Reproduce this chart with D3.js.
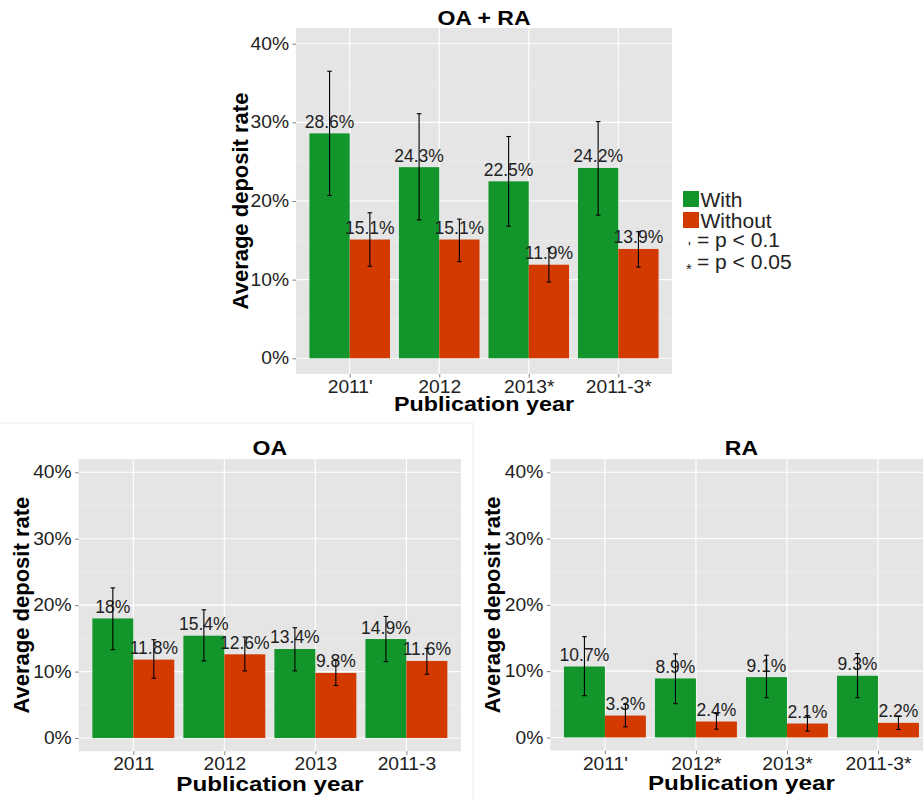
<!DOCTYPE html>
<html>
<head>
<meta charset="utf-8">
<script src="https://cdn.jsdelivr.net/npm/d3@7"></script>
<style>
  html, body { margin: 0; padding: 0; background: #fff; }
  svg { display: block; font-family: "Liberation Sans", Arial, sans-serif; }
</style>
</head>
<body>
<svg id="chart" width="923" height="799"></svg>
<script>
// Average deposit rate, with vs. without, per publication year (values in %)
const yTicks = [0, 10, 20, 30, 40];
const yMinor = [5, 15, 25, 35];

// OA + RA
const catsAll = ["2011'", "2012", "2013*", "2011-3*"];
const withAll = [28.6, 24.3, 22.5, 24.2];
const withAllLo = [20.7, 17.6, 16.8, 18.2];
const withAllHi = [36.5, 31.1, 28.2, 30.1];
const withoutAll = [15.1, 15.1, 11.9, 13.9];
const withoutAllLo = [11.7, 12.3, 9.7, 11.6];
const withoutAllHi = [18.5, 17.7, 14.0, 16.1];

// OA
const catsOA = ["2011", "2012", "2013", "2011-3"];
const withOA = [18, 15.4, 13.4, 14.9];
const withOALo = [13.3, 11.6, 10.1, 11.5];
const withOAHi = [22.6, 19.3, 16.6, 18.3];
const withoutOA = [11.8, 12.6, 9.8, 11.6];
const withoutOALo = [9.0, 10.1, 7.9, 9.6];
const withoutOAHi = [14.8, 15.2, 11.7, 13.5];

// RA
const catsRA = ["2011'", "2012*", "2013*", "2011-3*"];
const withRA = [10.7, 8.9, 9.1, 9.3];
const withRALo = [6.3, 5.1, 6.0, 6.0];
const withRAHi = [15.2, 12.6, 12.4, 12.65];
const withoutRA = [3.3, 2.4, 2.1, 2.2];
const withoutRALo = [1.6, 1.25, 0.95, 1.2];
const withoutRAHi = [5.0, 3.6, 3.3, 3.2];

const legendLabels = ["With", "Without"];
const COLORS = { With: "#12952a", Without: "#d23a00" };
const BG = "#e5e5e5";
const TXT = "#222";

const svg = d3.select("#chart");

// widen glyphs horizontally by a factor, keeping the font height
function widen(sel, factor) {
  sel.each(function () {
    const len = this.getComputedTextLength();
    d3.select(this).attr("textLength", len * factor).attr("lengthAdjust", "spacingAndGlyphs");
  });
  return sel;
}

// faint frame around the lower-left figure
svg.append("line").attr("x1", 0).attr("x2", 473).attr("y1", 423).attr("y2", 423)
  .attr("stroke", "#ececec").attr("stroke-width", 1);
svg.append("line").attr("x1", 473).attr("x2", 473).attr("y1", 423).attr("y2", 799)
  .attr("stroke", "#ececec").attr("stroke-width", 1);

function drawPanel(p) {
  const g = svg.append("g");
  const x = d3.scalePoint().domain(p.cats).range([p.left, p.right]).padding(0.6);
  const y = d3.scaleLinear().domain([-2, 42]).range([p.bottom, p.top]);
  const step = x.step();
  const bw = 0.45 * step;

  g.append("rect").attr("x", p.left).attr("y", p.top)
    .attr("width", p.right - p.left).attr("height", p.bottom - p.top).attr("fill", BG);

  // minor / major grid
  g.selectAll(".minor").data(yMinor).join("line")
    .attr("x1", p.left).attr("x2", p.right)
    .attr("y1", d => y(d)).attr("y2", d => y(d))
    .attr("stroke", "#f0f0f0").attr("stroke-width", 0.6);
  g.selectAll(".major").data(yTicks).join("line")
    .attr("x1", p.left).attr("x2", p.right)
    .attr("y1", d => y(d)).attr("y2", d => y(d))
    .attr("stroke", "#fff").attr("stroke-width", 1.1);
  g.selectAll(".vgrid").data(p.cats).join("line")
    .attr("x1", d => x(d)).attr("x2", d => x(d))
    .attr("y1", p.top).attr("y2", p.bottom)
    .attr("stroke", "#fff").attr("stroke-width", 1.1);

  const rows = p.cats.map((c, i) => [
    { c, key: "With", v: p.w[i], lo: p.wLo[i], hi: p.wHi[i], off: -bw / 2 },
    { c, key: "Without", v: p.wo[i], lo: p.woLo[i], hi: p.woHi[i], off: bw / 2 }
  ]).flat();

  g.selectAll(".bar").data(rows).join("rect")
    .attr("x", d => x(d.c) + d.off - bw / 2)
    .attr("width", bw)
    .attr("y", d => y(d.v))
    .attr("height", d => y(0) - y(d.v))
    .attr("fill", d => COLORS[d.key]);

  g.selectAll(".lab").data(rows).join("text")
    .attr("x", d => x(d.c) + d.off)
    .attr("y", d => y(d.v) - 5.5)
    .attr("text-anchor", "middle")
    .attr("font-size", 17.5).attr("fill", TXT)
    .text(d => `${d.v}%`);

  const eb = g.selectAll(".eb").data(rows).join("g").attr("stroke", "#000").attr("stroke-width", 1.1);
  const cap = 2.3;
  eb.append("line").attr("x1", d => x(d.c) + d.off).attr("x2", d => x(d.c) + d.off)
    .attr("y1", d => y(d.lo)).attr("y2", d => y(d.hi));
  eb.append("line").attr("x1", d => x(d.c) + d.off - cap).attr("x2", d => x(d.c) + d.off + cap)
    .attr("y1", d => y(d.lo)).attr("y2", d => y(d.lo));
  eb.append("line").attr("x1", d => x(d.c) + d.off - cap).attr("x2", d => x(d.c) + d.off + cap)
    .attr("y1", d => y(d.hi)).attr("y2", d => y(d.hi));

  // axes
  const yAxis = g.append("g").attr("transform", `translate(${p.left},0)`)
    .call(d3.axisLeft(y).tickValues(yTicks).tickSize(3.5).tickPadding(3.5).tickFormat(d => d + "%"));
  yAxis.select(".domain").remove();
  yAxis.selectAll("line").attr("stroke", "#7f7f7f");
  widen(yAxis.selectAll("text").attr("font-size", 17.5).attr("fill", TXT).attr("font-family", null), 1.1);

  const xAxis = g.append("g").attr("transform", `translate(0,${p.bottom})`)
    .call(d3.axisBottom(x).tickSize(3.5).tickPadding(3));
  xAxis.select(".domain").remove();
  xAxis.selectAll("line").attr("stroke", "#7f7f7f");
  widen(xAxis.selectAll("text").attr("font-size", 17.5).attr("fill", TXT).attr("font-family", null), 1.1);

  const cx = (p.left + p.right) / 2;
  widen(g.append("text").attr("x", cx).attr("y", p.titleY)
    .attr("text-anchor", "middle").attr("font-size", 20).attr("font-weight", "bold")
    .attr("fill", "#000").text(p.title), 1.15);
  widen(g.append("text").attr("x", cx).attr("y", p.bottom + p.xTitleDy)
    .attr("text-anchor", "middle").attr("font-size", 20).attr("font-weight", "bold")
    .attr("fill", "#000").text("Publication year"), p.xTitleWiden);
  g.append("text")
    .attr("transform", `translate(${p.left - p.yTitleDx},${(p.top + p.bottom) / 2}) rotate(-90)`)
    .attr("text-anchor", "middle").attr("dominant-baseline", "central")
    .attr("font-size", 22).attr("font-weight", "bold").attr("fill", "#000")
    .text("Average deposit rate");
}

drawPanel({ title: "OA + RA", cats: catsAll, w: withAll, wLo: withAllLo, wHi: withAllHi,
  wo: withoutAll, woLo: withoutAllLo, woHi: withoutAllHi,
  left: 296, right: 672, top: 28, bottom: 374, titleY: 25, xTitleDy: 37, xTitleWiden: 1.165, yTitleDx: 56 });
drawPanel({ title: "OA", cats: catsOA, w: withOA, wLo: withOALo, wHi: withOAHi,
  wo: withoutOA, woLo: withoutOALo, woHi: withoutOAHi,
  left: 78.7, right: 461, top: 459, bottom: 751.3, titleY: 455, xTitleDy: 39.4, xTitleWiden: 1.21, yTitleDx: 57 });
drawPanel({ title: "RA", cats: catsRA, w: withRA, wLo: withRALo, wHi: withRAHi,
  wo: withoutRA, woLo: withoutRALo, woHi: withoutRAHi,
  left: 550.3, right: 932.6, top: 459, bottom: 750.7, titleY: 455, xTitleDy: 39.4, xTitleWiden: 1.21, yTitleDx: 57.6 });

// legend
const lg = svg.append("g");
legendLabels.forEach((k, i) => {
  lg.append("rect").attr("x", 683).attr("y", 191 + i * 21).attr("width", 16).attr("height", 16)
    .attr("fill", COLORS[k]);
  widen(lg.append("text").attr("x", 700.5).attr("y", 207 + i * 21)
    .attr("font-size", 20).attr("fill", TXT).text(k), 1.05);
});
lg.append("text").attr("x", 688).attr("y", 252).attr("font-size", 15).attr("fill", TXT).text("'");
widen(lg.append("text").attr("x", 697).attr("y", 247).attr("font-size", 20).attr("fill", TXT).text("= p < 0.1"), 1.05);
lg.append("text").attr("x", 686).attr("y", 274).attr("font-size", 15).attr("fill", TXT).text("*");
widen(lg.append("text").attr("x", 697).attr("y", 269).attr("font-size", 20).attr("fill", TXT).text("= p < 0.05"), 1.05);
</script>
</body>
</html>
